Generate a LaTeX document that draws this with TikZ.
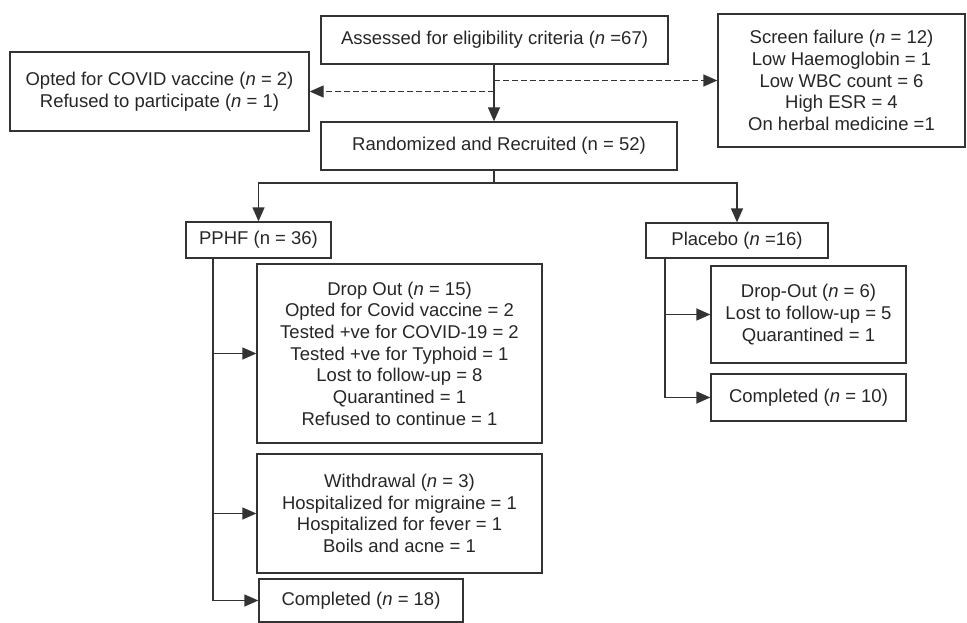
\documentclass[tikz,border=0pt]{standalone}
\usepackage{fontspec}
\setmainfont{Liberation Sans}
\usetikzlibrary{arrows.meta}
\definecolor{linecol}{HTML}{333333}
\definecolor{textcol}{HTML}{262626}
\begin{document}
\begin{tikzpicture}[x=1pt,y=-1pt,
  box/.style={draw=linecol,line width=1.3pt,inner sep=0pt,align=center,
    text=textcol,font=\fontsize{18.5}{21.7}\selectfont},
  conn/.style={draw=linecol,line width=1.3pt},
  arr/.style={conn,-{Triangle[length=14pt,width=12pt]}},
  dasharr/.style={arr,dash pattern=on 6pt off 3pt}]
\useasboundingbox (0,0) rectangle (967,623);
\node[box,minimum width=347pt,minimum height=48pt] (assess) at (494.5,40)
  {Assessed for eligibility criteria (\textit{n} =67)};
\node[box,minimum width=299pt,minimum height=79pt] (opted) at (159.5,91.5)
  {Opted for COVID vaccine (\textit{n} = 2)\\Refused to participate (\textit{n} = 1)};
\node[box,minimum width=247pt,minimum height=133pt] (screen) at (841.5,80.5)
  {Screen failure (\textit{n} = 12)\\Low Haemoglobin = 1\\Low WBC count = 6\\High ESR = 4\\On herbal medicine =1};
\node[box,minimum width=356pt,minimum height=48pt] (rand) at (499,146)
  {Randomized and Recruited (n = 52)};
\node[box,minimum width=145pt,minimum height=36pt] (pphf) at (258.5,240)
  {PPHF (n = 36)};
\node[box,minimum width=182pt,minimum height=35pt] (placebo) at (737,240.5)
  {Placebo (\textit{n} =16)};
\node[box,minimum width=285pt,minimum height=179pt] (drop) at (399.5,353.5)
  {Drop Out (\textit{n} = 15)\\Opted for Covid vaccine = 2\\Tested +ve for COVID-19 = 2\\Tested +ve for Typhoid = 1\\Lost to follow-up = 8\\Quarantined = 1\\Refused to continue = 1};
\node[box,minimum width=285pt,minimum height=119pt] (withd) at (399.5,513.5)
  {Withdrawal (\textit{n} = 3)\\Hospitalized for migraine = 1\\Hospitalized for fever = 1\\Boils and acne = 1};
\node[box,minimum width=204pt,minimum height=43pt] (compA) at (361,600.5)
  {Completed (\textit{n} = 18)};
\node[box,minimum width=195pt,minimum height=97pt] (dropB) at (808.5,314.5)
  {Drop-Out (\textit{n} = 6)\\Lost to follow-up = 5\\Quarantined = 1};
\node[box,minimum width=195pt,minimum height=47pt] (compB) at (808.5,397.5)
  {Completed (\textit{n} = 10)};
% connectors
\coordinate (trunk) at (494,0);
\coordinate (split) at (494,183);
\coordinate (pl) at (213,0);
\coordinate (pr) at (665,0);
\draw[arr] (trunk |- assess.south) -- (trunk |- rand.north);
\draw[dasharr] (trunk |- screen.west) -- (screen.west);
\draw[dasharr] (trunk |- opted.east) -- (opted.east);
\draw[conn] (trunk |- rand.south) -- (split);
\draw[arr] (split) -| (pphf.north);
\draw[arr] (split) -| (placebo.north);
\draw[arr] (pl |- pphf.south) |- (compA.west);
\draw[arr] (pl |- drop.west) -- (drop.west);
\draw[arr] (pl |- withd.west) -- (withd.west);
\draw[arr] (pr |- placebo.south) |- (compB.west);
\draw[arr] (pr |- dropB.west) -- (dropB.west);
\end{tikzpicture}
\end{document}
